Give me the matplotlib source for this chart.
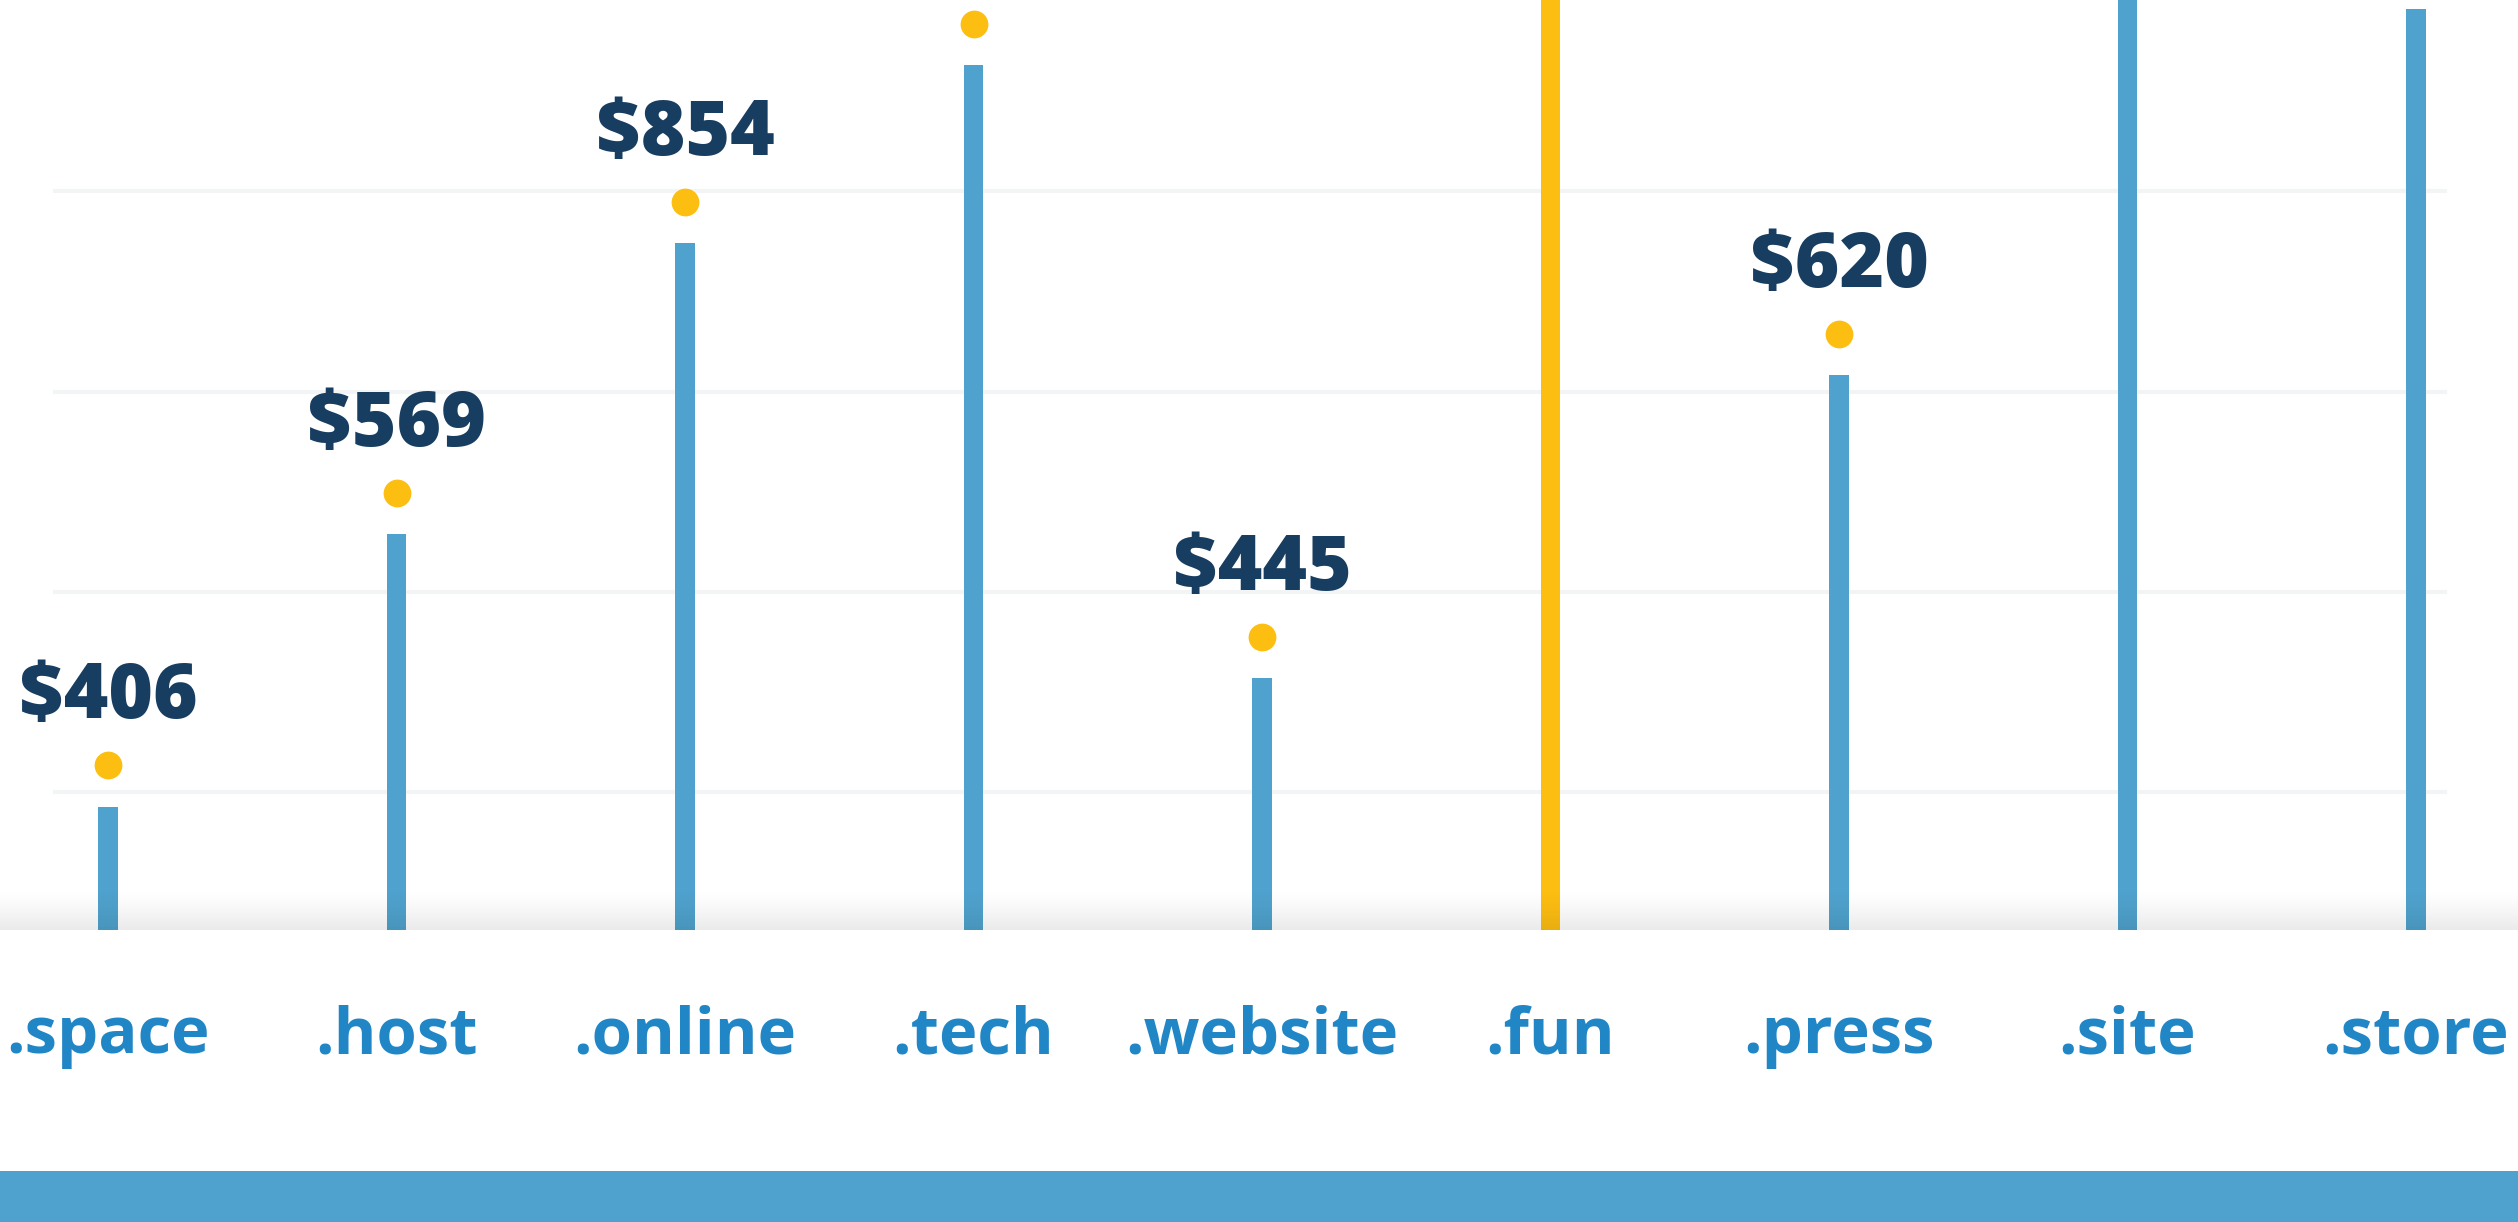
import numpy as np
import matplotlib
matplotlib.use("Agg")
import matplotlib.pyplot as plt
from matplotlib.patches import Rectangle
from matplotlib.transforms import blended_transform_factory

# ---------------- data ----------------
tlds = [".space", ".host", ".online", ".tech", ".website", ".fun", ".press", ".site", ".store"]
bar_heights = [93, 229, 374, 463, 157, 560, 308, 560, 491]   # read on the hidden axis
prices = [406, 569, 854, None, 445, None, 620, None, None]    # labels off-canvas are unknown
highlight = [".fun"]
gridlines = [100, 200, 300, 400]

# ---------------- style ----------------
W, H, DPI = 2518, 1222, 100
BLUE = "#4FA2CD"
YELLOW = "#FDBE12"
NAVY = "#173D61"
LABEL_BLUE = "#2186C5"
GRID = "#F2F4F6"
PRICE_FONT = ["Open Sans", "DejaVu Sans"]
LABEL_FONT = ["Open Sans", "DejaVu Sans"]

fig = plt.figure(figsize=(W / DPI, H / DPI), dpi=DPI)
fig.patch.set_facecolor("white")

baseline_px = 930
ax = fig.add_axes([0, (H - baseline_px) / H, 1, baseline_px / H])
y_lo, y_hi = 31.4, 495.3
ax.set_ylim(y_lo, y_hi)
ax.set_xlim(-0.3744, 8.3536)
ax.axis("off")

x = np.arange(len(tlds))
h = np.array(bar_heights, dtype=float)

for g in gridlines:
    ax.axhline(g, xmin=0.022, xmax=0.971, color=GRID, lw=3.0, zorder=1)

colors = [YELLOW if t in highlight else BLUE for t in tlds]
ax.bar(x, h - y_lo, bottom=y_lo, width=0.066, color=colors, zorder=2)

dot_off = 20.5
ax.scatter(x, h + dot_off, s=400, color=YELLOW, zorder=3, linewidths=0)

for i, p in enumerate(prices):
    if p is None:
        continue
    ax.annotate(f"${p}", (x[i], h[i] + dot_off), xytext=(0, 34),
                textcoords="offset points", ha="center", va="baseline",
                fontsize=55, fontweight=800, family=PRICE_FONT, color=NAVY,
                zorder=4)

trans = blended_transform_factory(ax.transData, ax.transAxes)
lab_y = (baseline_px - 1053) / baseline_px
for i, t in enumerate(tlds):
    ax.text(x[i], lab_y, t, transform=trans, ha="center", va="baseline",
            fontsize=47, fontweight="bold", family=LABEL_FONT, color=LABEL_BLUE,
            clip_on=False)

# soft grey shading just above the baseline
ov = fig.add_axes([0, (H - baseline_px) / H, 1, 42 / H])
ov.set_zorder(5)
grad = np.zeros((64, 1, 4))
grad[:, 0, 3] = 0.085 * np.linspace(0, 1, 64) ** 1.3
ov.imshow(grad, aspect="auto", extent=[0, 1, 0, 1], interpolation="bilinear")
ov.axis("off")
ov.patch.set_alpha(0)

# blue footer band
fig.add_artist(Rectangle((0, 0), 1, 51 / H, transform=fig.transFigure,
                         color=BLUE, lw=0))

fig.savefig("out.png", dpi=DPI, facecolor="white")
